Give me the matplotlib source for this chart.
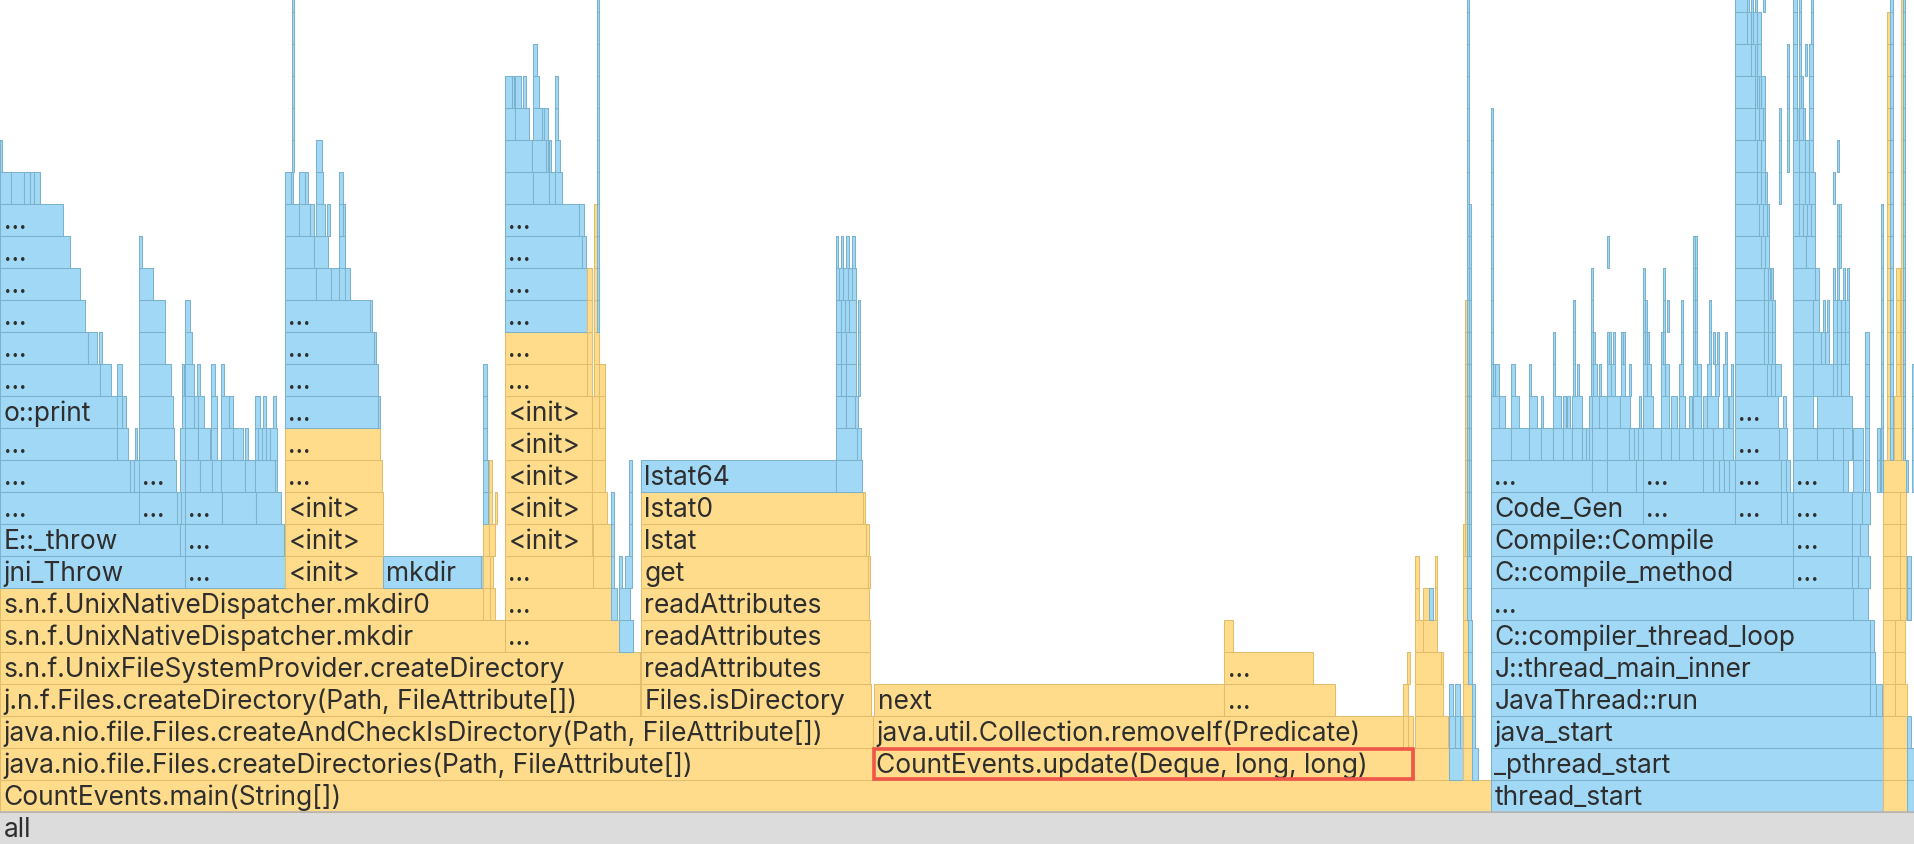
import matplotlib
matplotlib.use("Agg")
import matplotlib.pyplot as plt
from matplotlib.patches import Rectangle
from matplotlib.collections import PatchCollection

# ---------------- data (x in samples, total 1914; depth = stack level) ----------------
TOTAL_SAMPLES = 1914

# spine / named frames: (depth, start, end, label, kind)
base_frames = [
    (0, 0, 1914, "all", "g"),
    (1, 0, 1491, "CountEvents.main(String[])", "y"),
    (1, 1491, 1883, "thread_start", "b"),
    (2, 0, 873, "java.nio.file.Files.createDirectories(Path, FileAttribute[])", "y"),
    (2, 873, 1414, "CountEvents.update(Deque, long, long)", "y"),
    (2, 1491, 1883, "_pthread_start", "b"),
    (3, 0, 873, "java.nio.file.Files.createAndCheckIsDirectory(Path, FileAttribute[])", "y"),
    (3, 873, 1403, "java.util.Collection.removeIf(Predicate)", "y"),
    (3, 1491, 1883, "java_start", "b"),
    (4, 0, 640, "j.n.f.Files.createDirectory(Path, FileAttribute[])", "y"),
    (4, 641, 871, "Files.isDirectory", "y"),
    (4, 874, 1224, "next", "y"),
    (4, 1224, 1335, "...", "y"),
    (4, 1491, 1870, "JavaThread::run", "b"),
    (5, 0, 640, "s.n.f.UnixFileSystemProvider.createDirectory", "y"),
    (5, 641, 870, "readAttributes", "y"),
    (5, 1224, 1313, "...", "y"),
    (5, 1491, 1870, "J::thread_main_inner", "b"),
    (6, 0, 505, "s.n.f.UnixNativeDispatcher.mkdir", "y"),
    (6, 505, 619, "...", "y"),
    (6, 641, 870, "readAttributes", "y"),
    (6, 1491, 1870, "C::compiler_thread_loop", "b"),
    (7, 0, 483, "s.n.f.UnixNativeDispatcher.mkdir0", "y"),
    (7, 505, 611, "...", "y"),
    (7, 641, 869, "readAttributes", "y"),
    (7, 1491, 1853, "...", "b"),
]

highlight_frame = (2, 873, 1414)

left_frames = [
    (8, 0, 185, "jni_Throw", "b"), (8, 185, 285, "...", "b"),
    (9, 0, 180, "E::_throw", "b"), (9, 180, 185, "", "b"), (9, 185, 284, "...", "b"),
    (10, 0, 139, "...", "b"), (10, 139, 177, "...", "b"), (10, 177, 181, "", "b"), (10, 181, 185, "", "b"),
    (10, 185, 222, "...", "b"), (10, 222, 256, "", "b"), (10, 256, 281, "", "b"),
    (11, 0, 130, "...", "b"), (11, 130, 134, "", "b"), (11, 134, 139, "", "b"), (11, 139, 176, "...", "b"),
    (11, 180, 185, "", "b"), (11, 185, 200, "", "b"), (11, 200, 212, "", "b"), (11, 212, 221, "", "b"),
    (11, 221, 245, "", "b"), (11, 245, 255, "", "b"), (11, 255, 275, "", "b"), (11, 275, 277, "", "b"),
    (12, 0, 117, "...", "b"), (12, 117, 128, "", "b"), (12, 135, 137, "", "b"), (12, 139, 174, "", "b"),
    (12, 180, 185, "", "b"), (12, 185, 198, "", "b"), (12, 198, 210, "", "b"), (12, 211, 217, "", "b"),
    (12, 221, 233, "", "b"), (12, 233, 243, "", "b"), (12, 245, 248, "", "b"), (12, 255, 258, "", "b"),
    (12, 258, 262, "", "b"), (12, 262, 266, "", "b"), (12, 266, 270, "", "b"), (12, 270, 277, "", "b"),
    (13, 0, 117, "o::print", "b"), (13, 117, 122, "", "b"), (13, 122, 126, "", "b"), (13, 139, 173, "", "b"),
    (13, 182, 185, "", "b"), (13, 185, 194, "", "b"), (13, 194, 198, "", "b"), (13, 198, 204, "", "b"),
    (13, 211, 217, "", "b"), (13, 221, 229, "", "b"), (13, 229, 233, "", "b"), (13, 255, 260, "", "b"),
    (13, 263, 266, "", "b"), (13, 273, 276, "", "b"),
    (14, 0, 100, "...", "b"), (14, 100, 111, "", "b"), (14, 117, 122, "", "b"), (14, 139, 171, "", "b"),
    (14, 182, 184, "", "b"), (14, 185, 194, "", "b"), (14, 197, 200, "", "b"), (14, 211, 215, "", "b"),
    (14, 221, 224, "", "b"),
    (15, 0, 88, "...", "b"), (15, 88, 97, "", "b"), (15, 99, 102, "", "b"), (15, 139, 165, "", "b"), (15, 185, 192, "", "b"),
    (16, 0, 85, "...", "b"), (16, 139, 165, "", "b"), (16, 185, 190, "", "b"),
    (17, 0, 80, "...", "b"), (17, 139, 153, "", "b"),
    (18, 0, 70, "...", "b"), (18, 139, 142, "", "b"),
    (19, 0, 63, "...", "b"),
    (20, 0, 11, "", "b"), (20, 11, 24, "", "b"), (20, 24, 30, "", "b"), (20, 30, 34, "", "b"), (20, 34, 40, "", "b"),
    (21, 0, 2, "", "b"),
]

init_frames = [
    (8, 285, 383, "<init>", "y"), (8, 383, 481, "mkdir", "b"), (8, 481, 483, "", "b"),
    (9, 285, 383, "<init>", "y"),
    (10, 285, 383, "<init>", "y"),
    (11, 285, 382, "...", "y"),
    (12, 285, 380, "...", "y"),
    (13, 285, 378, "...", "b"), (13, 378, 380, "", "b"),
    (14, 285, 378, "...", "b"),
    (15, 285, 374, "...", "b"), (15, 374, 376, "", "b"),
    (16, 285, 370, "...", "b"), (16, 370, 372, "", "b"),
    (17, 285, 315.5, "", "b"), (17, 315.5, 331.4, "", "b"), (17, 331.4, 339.3, "", "b"),
    (17, 339.3, 344.8, "", "b"), (17, 344.8, 349.5, "", "b"),
    (18, 285, 314.4, "", "b"), (18, 314.4, 328.2, "", "b"), (18, 339, 345, "", "b"),
    (19, 285, 299.3, "", "b"), (19, 299.3, 310.4, "", "b"), (19, 310.4, 313.5, "", "b"),
    (19, 315.5, 325.4, "", "b"), (19, 327.4, 329.8, "", "b"), (19, 339.3, 343.2, "", "b"), (19, 343.2, 345.2, "", "b"),
    (20, 285, 290.6, "", "b"), (20, 290.6, 293.4, "", "b"), (20, 299.3, 305.2, "", "b"),
    (20, 305.2, 307.6, "", "b"), (20, 315.5, 323.4, "", "b"), (20, 339.3, 343.2, "", "b"),
    (21, 315.5, 321.5, "", "b"),
]

mid_frames = [
    (6, 619, 633, "", "b"),
    (7, 483, 490, "", "y"), (7, 490, 495, "", "y"), (7, 611, 617, "", "b"), (7, 619, 630, "", "b"),
    (8, 483, 490, "", "y"), (8, 490, 493, "", "y"), (8, 505, 593, "...", "y"), (8, 593, 611, "", "y"),
    (8, 611, 614, "", "b"), (8, 619, 622, "", "b"), (8, 625, 632, "", "b"),
    (9, 483, 489, "", "y"), (9, 489, 495, "", "y"), (9, 505, 592, "<init>", "y"), (9, 593, 611, "", "y"),
    (9, 611, 614, "", "b"), (9, 629, 632, "", "b"),
    (10, 483, 488, "", "b"), (10, 489, 492, "", "y"), (10, 495, 497, "", "y"), (10, 505, 592, "<init>", "y"),
    (10, 592, 607, "", "y"), (10, 611, 614, "", "b"), (10, 629, 632, "", "b"),
    (11, 483, 488, "", "b"), (11, 489, 492, "", "y"), (11, 505, 592, "<init>", "y"), (11, 592, 605, "", "y"),
    (11, 629, 632, "", "b"),
    (12, 483, 487, "", "b"), (12, 505, 592, "<init>", "y"), (12, 592, 605, "", "y"),
    (13, 483, 487, "", "b"), (13, 505, 592, "<init>", "y"), (13, 592, 599, "", "y"), (13, 599, 605, "", "y"),
    (14, 483, 487, "", "b"), (14, 505, 587, "...", "y"), (14, 587, 592, "", "y"), (14, 594, 599, "", "y"),
    (14, 599, 605, "", "y"),
    (15, 505, 587, "...", "y"), (15, 587, 592, "", "y"), (15, 594, 599, "", "y"),
    (16, 505, 587, "...", "b"), (16, 587, 592, "", "y"), (16, 594, 597, "", "y"),
    (17, 505, 587, "...", "b"), (17, 587, 592, "", "y"), (17, 594, 597, "", "y"),
    (18, 505, 582, "...", "b"), (18, 582, 586, "", "b"), (18, 594, 597, "", "y"),
    (19, 505, 579, "...", "b"), (19, 579, 584, "", "b"), (19, 594, 597, "", "y"),
    (20, 505, 533, "", "b"), (20, 533, 549, "", "b"), (20, 549, 555, "", "b"), (20, 555, 562, "", "b"),
    (21, 505, 532, "", "b"), (21, 532, 546, "", "b"), (21, 546, 548, "", "b"), (21, 549, 551, "", "b"),
    (21, 555, 560, "", "b"),
    (22, 505, 515, "", "b"), (22, 515, 529, "", "b"), (22, 533, 542, "", "b"), (22, 542, 544, "", "b"),
    (22, 544, 548, "", "b"), (22, 555, 558, "", "b"),
    (23, 505, 512, "", "b"), (23, 512, 514, "", "b"), (23, 515, 521, "", "b"), (23, 523, 526, "", "b"),
    (23, 533, 539, "", "b"), (23, 555, 558, "", "b"),
    (24, 533, 537, "", "b"),
]

lstat_frames = [
    (8, 641, 868, "get", "y"), (8, 868, 870, "", "y"),
    (9, 641, 866, "lstat", "y"), (9, 866, 869, "", "y"),
    (10, 641, 863, "lstat0", "y"), (10, 863, 865, "", "y"),
    (11, 641, 836, "lstat64", "b"), (11, 836, 862, "", "b"),
    (12, 836, 857, "", "b"), (12, 857, 861, "", "b"),
    (13, 836, 846, "", "b"), (13, 846, 855, "", "b"), (13, 855, 858, "", "b"),
    (14, 836, 841, "", "b"), (14, 841, 846, "", "b"), (14, 846, 856, "", "b"), (14, 858, 860, "", "b"),
    (15, 836, 841, "", "b"), (15, 841, 846, "", "b"), (15, 846, 856, "", "b"), (15, 858, 860, "", "b"),
    (16, 836, 841, "", "b"), (16, 841, 845, "", "b"), (16, 845, 849, "", "b"), (16, 849, 856, "", "b"),
    (16, 858, 860, "", "b"),
    (17, 836, 839, "", "b"), (17, 839, 843, "", "b"), (17, 843, 848, "", "b"), (17, 848, 852, "", "b"),
    (17, 852, 856, "", "b"),
    (18, 836, 838, "", "b"), (18, 841, 843, "", "b"), (18, 846, 849, "", "b"), (18, 852, 855, "", "b"),
]

center_frames = [
    (6, 1224, 1233, "", "y"),
    (2, 1414, 1449, "", "y"), (2, 1449, 1463, "", "b"), (2, 1463, 1472, "", "y"), (2, 1472, 1478, "", "b"),
    (3, 1403, 1408, "", "y"), (3, 1408, 1413, "", "y"), (3, 1415, 1448, "", "y"), (3, 1449, 1455, "", "b"),
    (3, 1455, 1460, "", "b"), (3, 1460, 1463, "", "b"), (3, 1463, 1472, "", "y"), (3, 1472, 1475, "", "b"),
    (4, 1403, 1408, "", "y"), (4, 1415, 1443, "", "y"), (4, 1449, 1453, "", "b"), (4, 1455, 1460, "", "b"),
    (4, 1463, 1472, "", "y"), (4, 1472, 1475, "", "b"),
    (5, 1407, 1410, "", "y"), (5, 1415, 1441, "", "y"), (5, 1441, 1443, "", "y"), (5, 1463, 1468, "", "y"),
    (5, 1468, 1472, "", "b"),
    (6, 1415, 1423, "", "y"), (6, 1423, 1437, "", "y"), (6, 1463, 1468, "", "y"), (6, 1468, 1472, "", "b"),
    (7, 1415, 1419, "", "y"), (7, 1423, 1429, "", "y"), (7, 1429, 1433, "", "b"), (7, 1435, 1437, "", "y"),
    (7, 1463, 1467, "", "y"), (7, 1467, 1471, "", "b"),
    (8, 1415, 1419, "", "y"), (8, 1435, 1437, "", "y"), (8, 1463, 1467, "", "y"), (8, 1467, 1471, "", "b"),
    (9, 1463, 1465, "", "y"),
]

right_named = [
    (4, 1870, 1876, "", "b"), (4, 1876, 1882, "", "b"),
    (5, 1870, 1875, "", "b"), (6, 1870, 1874, "", "b"),
    (7, 1853, 1868, "", "b"),
    (8, 1491, 1793, "C::compile_method", "b"), (8, 1793, 1852, "...", "b"), (8, 1852, 1858, "", "b"),
    (8, 1858, 1870, "", "b"),
    (9, 1491, 1793, "Compile::Compile", "b"), (9, 1793, 1852, "...", "b"), (9, 1852, 1860, "", "b"),
    (9, 1860, 1868, "", "b"),
    (10, 1491, 1643, "Code_Gen", "b"), (10, 1643, 1735, "...", "b"), (10, 1735, 1781, "...", "b"),
    (10, 1781, 1787, "", "b"), (10, 1787, 1793, "", "b"), (10, 1793, 1852, "...", "b"),
    (10, 1852, 1862, "", "b"), (10, 1862, 1870, "", "b"),
    (11, 1491, 1592, "...", "b"), (11, 1592, 1607, "", "b"), (11, 1607, 1636, "", "b"), (11, 1636, 1643, "", "b"),
    (11, 1643, 1703, "...", "b"), (11, 1703, 1713, "", "b"), (11, 1713, 1719, "", "b"), (11, 1719, 1724, "", "b"),
    (11, 1724, 1729, "", "b"), (11, 1729, 1735, "", "b"), (11, 1735, 1781, "...", "b"), (11, 1781, 1786, "", "b"),
    (11, 1786, 1790, "", "b"), (11, 1793, 1843, "...", "b"), (11, 1843, 1848, "", "b"),
    (12, 1735, 1779, "...", "b"),
    (13, 1735, 1778, "...", "b"),
]

# unlabeled compiler-thread boxes: (depth, start, end)
right_boxes = [
    (12, 1491, 1511), (12, 1511, 1529), (12, 1529, 1541), (12, 1541, 1553), (12, 1553, 1563), (12, 1563, 1572),
    (12, 1572, 1582), (12, 1582, 1586), (12, 1586, 1589), (12, 1589, 1592), (12, 1592, 1607), (12, 1607, 1629),
    (12, 1629, 1634), (12, 1634, 1638), (12, 1638, 1643), (12, 1643, 1661), (12, 1661, 1671), (12, 1671, 1679),
    (12, 1679, 1693), (12, 1693, 1703), (12, 1703, 1713), (12, 1713, 1723), (12, 1723, 1733), (12, 1779, 1787),
    (12, 1793, 1817), (12, 1817, 1833), (12, 1833, 1843), (12, 1843, 1852),
    (13, 1491, 1499), (13, 1499, 1505), (13, 1511, 1519), (13, 1529, 1537), (13, 1541, 1543), (13, 1553, 1561),
    (13, 1563, 1566), (13, 1567, 1570), (13, 1572, 1582), (13, 1589, 1592), (13, 1592, 1599), (13, 1599, 1607),
    (13, 1607, 1620), (13, 1620, 1630), (13, 1639, 1641), (13, 1643, 1653), (13, 1661, 1669), (13, 1671, 1677),
    (13, 1679, 1685), (13, 1689, 1692), (13, 1693, 1701), (13, 1703, 1707), (13, 1707, 1718), (13, 1723, 1728),
    (13, 1729, 1733), (13, 1783, 1786), (13, 1793, 1813), (13, 1817, 1852),
    (14, 1493, 1495), (14, 1495, 1499), (14, 1511, 1515), (14, 1529, 1531), (14, 1553, 1555), (14, 1573, 1575),
    (14, 1577, 1579), (14, 1591, 1593), (14, 1593, 1597), (14, 1599, 1601), (14, 1607, 1611), (14, 1611, 1615),
    (14, 1621, 1625), (14, 1629, 1631), (14, 1643, 1647), (14, 1647, 1651), (14, 1661, 1665), (14, 1665, 1669),
    (14, 1679, 1683), (14, 1693, 1697), (14, 1697, 1701), (14, 1707, 1711), (14, 1715, 1719), (14, 1723, 1727),
    (14, 1731, 1733), (14, 1735, 1767), (14, 1767, 1771), (14, 1771, 1775), (14, 1775, 1781), (14, 1793, 1813),
    (14, 1813, 1833), (14, 1833, 1837), (14, 1837, 1841), (14, 1841, 1849),
    (15, 1553, 1555), (15, 1573, 1575), (15, 1591, 1593), (15, 1593, 1595), (15, 1607, 1609), (15, 1609, 1611),
    (15, 1613, 1615), (15, 1621, 1623), (15, 1623, 1625), (15, 1643, 1645), (15, 1645, 1647), (15, 1647, 1649),
    (15, 1661, 1663), (15, 1663, 1665), (15, 1681, 1683), (15, 1693, 1695), (15, 1695, 1697), (15, 1709, 1711),
    (15, 1713, 1715), (15, 1717, 1719), (15, 1725, 1727), (15, 1735, 1764), (15, 1764, 1768), (15, 1768, 1772),
    (15, 1772, 1775), (15, 1793, 1813), (15, 1813, 1821), (15, 1821, 1825), (15, 1825, 1829), (15, 1833, 1837),
    (15, 1837, 1841), (15, 1841, 1845), (15, 1845, 1849),
    (16, 1573, 1575), (16, 1591, 1593), (16, 1643, 1645), (16, 1645, 1647), (16, 1663, 1665), (16, 1667, 1669),
    (16, 1681, 1683), (16, 1693, 1695), (16, 1695, 1697), (16, 1709, 1711), (16, 1735, 1764), (16, 1764, 1768),
    (16, 1768, 1772), (16, 1772, 1775), (16, 1793, 1813), (16, 1813, 1819), (16, 1823, 1825), (16, 1827, 1829),
    (16, 1833, 1837), (16, 1837, 1841), (16, 1841, 1845), (16, 1845, 1849),
    (17, 1591, 1593), (17, 1643, 1645), (17, 1663, 1665), (17, 1693, 1695), (17, 1695, 1697), (17, 1735, 1764),
    (17, 1764, 1768), (17, 1768, 1770), (17, 1771, 1773), (17, 1793, 1815), (17, 1815, 1819), (17, 1833, 1835),
    (17, 1837, 1839), (17, 1843, 1845), (17, 1847, 1849),
    (18, 1607, 1609), (18, 1693, 1695), (18, 1695, 1697), (18, 1735, 1761), (18, 1761, 1765), (18, 1765, 1769),
    (18, 1793, 1806), (18, 1806, 1815), (18, 1837, 1839), (18, 1839, 1841),
    (19, 1735, 1759), (19, 1759, 1763), (19, 1763, 1767), (19, 1767, 1769), (19, 1793, 1799), (19, 1799, 1803),
    (19, 1803, 1807), (19, 1807, 1811), (19, 1811, 1815), (19, 1837, 1839), (19, 1839, 1841),
    (20, 1735, 1757), (20, 1757, 1761), (20, 1761, 1765), (20, 1765, 1767), (20, 1779, 1781), (20, 1793, 1799),
    (20, 1799, 1805), (20, 1805, 1809), (20, 1809, 1815), (20, 1833, 1835),
    (21, 1735, 1757), (21, 1757, 1761), (21, 1761, 1765), (21, 1779, 1781), (21, 1787, 1789), (21, 1793, 1799),
    (21, 1799, 1805), (21, 1805, 1809), (21, 1809, 1813), (21, 1837, 1839),
    (22, 1735, 1755), (22, 1755, 1759), (22, 1759, 1763), (22, 1763, 1765), (22, 1779, 1781), (22, 1787, 1789),
    (22, 1793, 1797), (22, 1797, 1799), (22, 1799, 1803), (22, 1803, 1805), (22, 1809, 1813),
    (23, 1735, 1755), (23, 1755, 1757), (23, 1757, 1759), (23, 1759, 1761), (23, 1761, 1765), (23, 1787, 1789),
    (23, 1793, 1797), (23, 1799, 1801), (23, 1801, 1803), (23, 1809, 1813),
    (24, 1735, 1751), (24, 1751, 1755), (24, 1755, 1757), (24, 1757, 1761), (24, 1787, 1789), (24, 1793, 1797),
    (24, 1799, 1801), (24, 1805, 1807), (24, 1809, 1813),
    (25, 1735, 1747), (25, 1747, 1751), (25, 1751, 1753), (25, 1753, 1757), (25, 1757, 1761), (25, 1793, 1797),
    (25, 1799, 1801), (25, 1811, 1813),
    (26, 1735, 1747), (26, 1747, 1749), (26, 1751, 1753), (26, 1755, 1757), (26, 1763, 1765), (26, 1793, 1797),
    (26, 1799, 1801), (26, 1811, 1813),
]

# far-right column: (depth, start, end, kind)
edge_frames = [
    (1, 1883, 1907, "y"), (1, 1907, 1914, "b"),
    (2, 1883, 1907, "y"), (2, 1907, 1914, "b"),
    (3, 1883, 1907, "y"), (3, 1907, 1911, "b"),
    (4, 1883, 1895, "y"), (4, 1895, 1907, "y"),
    (5, 1883, 1895, "y"), (5, 1895, 1905, "y"),
    (6, 1883, 1895, "y"), (6, 1895, 1905, "y"),
    (7, 1883, 1900, "y"), (7, 1900, 1906, "y"), (7, 1907, 1911, "b"),
    (8, 1883, 1900, "y"), (8, 1900, 1906, "y"), (8, 1907, 1911, "b"),
    (9, 1883, 1900, "y"), (9, 1900, 1906, "y"),
    (10, 1883, 1900, "y"), (10, 1900, 1906, "y"),
    (11, 1883, 1906, "y"), (11, 1906, 1908, "b"),
    (12, 1894, 1901, "y"), (13, 1894, 1901, "y"),
    (14, 1896, 1900, "y"), (15, 1896, 1900, "y"), (16, 1896, 1900, "y"), (17, 1896, 1900, "y"),
]

# narrow columns spanning several levels: (start, end, first depth, last depth, kind)
spikes = [
    (291.8, 293.8, 21, 26, "b"),
    (597, 599, 16, 26, "b"),
    (1465, 1467, 9, 16, "y"),
    (1467, 1469.3, 9, 26, "b"),
    (1469.3, 1471.3, 9, 19, "b"),
    (1491.3, 1493.3, 14, 22, "b"),
    (1853, 1863, 11, 12, "b"),
    (1865, 1869, 11, 15, "b"),
    (1877, 1880, 11, 12, "b"),
    (1881, 1883, 11, 19, "b"),
    (1887, 1890, 12, 25, "y"),
    (1890, 1893, 12, 26, "b"),
    (1901, 1903, 12, 26, "y"),
    (1903, 1905, 12, 26, "b"),
    (1912, 1914, 11, 14, "b"),
]

# ---------------- styling ----------------
FILL = {"y": "#FEDC8B", "b": "#A1D8F5", "g": "#DCDCDC"}
EDGE = {"y": "#E2BE6C", "b": "#7DB2CD", "g": "#DCDCDC"}
TEXT_COLOR = "#2E2E2E"
FONT = ["Inter", "DejaVu Sans"]

ROW_PX = 32
W_PX, H_PX = 1914, 844

fig = plt.figure(figsize=(W_PX / 100, H_PX / 100), dpi=100)
ax = fig.add_axes([0, 0, 1, 1])
ax.set_xlim(0, TOTAL_SAMPLES)
ax.set_ylim(0, H_PX / ROW_PX)
ax.axis("off")

frames = []
for group in (base_frames, left_frames, init_frames, mid_frames, lstat_frames, center_frames, right_named):
    frames.extend(group)
for d, s, e in right_boxes:
    frames.append((d, s, e, "", "b"))
for d, s, e, k in edge_frames:
    frames.append((d, s, e, "", k))
for s, e, d0, d1, k in spikes:
    for d in range(d0, d1 + 1):
        frames.append((d, s, e, "", k))

rects, fcs, ecs = [], [], []
for d, s, e, lab, k in frames:
    rects.append(Rectangle((s, d), e - s, 1))
    fcs.append(FILL[k])
    ecs.append(EDGE[k])
pc = PatchCollection(rects, facecolors=fcs, edgecolors=ecs, linewidths=0.75, zorder=1)
ax.add_collection(pc)

# grey separator on top of the "all" row
ax.plot([0, TOTAL_SAMPLES], [1, 1], color="#B5B5B5", lw=1.2, zorder=2)

for d, s, e, lab, k in frames:
    if not lab:
        continue
    clip = Rectangle((s, d), e - s, 1, transform=ax.transData)
    t = ax.text(s + 3.5, d + 0.22, lab, fontsize=19.0, family=FONT, color=TEXT_COLOR,
                va="baseline", ha="left", zorder=3)
    t.set_clip_path(clip)

hd, hs, he = highlight_frame
ax.add_patch(Rectangle((hs + 1.3, hd + 0.045), he - hs - 2.6, 0.91, fill=False,
                       edgecolor="#EF5548", lw=2.6, zorder=4))

fig.savefig("out.png", dpi=100)
